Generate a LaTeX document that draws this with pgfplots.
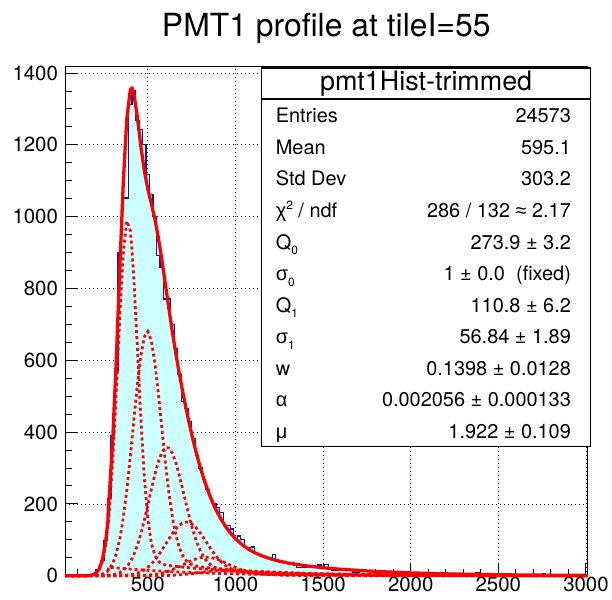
\documentclass[border=0pt]{standalone}
\usepackage{fontspec}
\setmainfont{TeX Gyre Heros}
\newfontfamily\grk{Liberation Sans}
\usepackage{pgfplots}
\usepackage{pgfplotstable}
\pgfplotsset{compat=1.18}
\pgfplotsset{layers/histlayers/.define layer set={axis background,axis grid,pre main,main,axis ticks,axis lines,axis tick labels,axis descriptions,axis foreground}{}}

\definecolor{histfill}{RGB}{204,255,255}
\definecolor{histline}{RGB}{20,20,170}
\definecolor{fitred}{RGB}{255,0,0}

\newcommand{\lowidx}[1]{\raisebox{-0.55ex}{\fontsize{12}{12}\selectfont #1}}
\newcommand{\highidx}[1]{\raisebox{0.75ex}{\fontsize{12}{12}\selectfont #1}}

% histogram: left bin edge, content (bin width 20); closed down to zero at the end
\pgfplotstableread{
x y
30 0
50 0
70 0
90 0
110 0
130 0
150 1
170 2
190 6
210 17
230 43
250 98
270 215
290 390
310 570
330 900
350 1050
370 1052
390 1312
410 1351
430 1268
450 1243
470 1200
490 1118
510 1062
530 1000
550 891
570 860
590 771
610 771
630 700
650 632
670 560
690 485
710 465
730 430
750 383
770 336
790 300
810 269
830 241
850 215
870 200
890 190
910 176
930 140
950 139
970 130
990 103
1010 111
1030 100
1050 79
1070 78
1090 80
1110 62
1130 58
1150 54
1170 50
1190 50
1210 59
1230 42
1250 40
1270 38
1290 38
1310 34
1330 30
1350 22
1370 22
1390 22
1410 27
1430 25
1450 24
1470 30
1490 22
1510 31
1530 21
1550 15
1570 15
1590 18
1610 17
1630 17
1650 16
1670 10
1690 10
1710 14
1730 14
1750 13
1770 13
1790 12
1810 5
1830 11
1850 6
1870 10
1890 10
1910 9
1930 9
1950 9
1970 8
1990 8
2010 8
2030 7
2050 7
2070 7
2090 7
2110 6
2130 6
2150 6
2170 6
2190 8
2210 5
2230 5
2250 5
2270 5
2290 4
2310 4
2330 4
2350 4
2370 8
2390 4
2410 3
2430 3
2450 3
2470 3
2490 3
2510 3
2530 3
2550 3
2570 2
2590 2
2610 2
2630 2
2650 2
2670 2
2690 2
2710 2
2730 2
2750 6
2770 2
2790 2
2810 1
2830 1
2850 1
2870 1
2890 1
2910 1
2930 1
2950 1
2970 1
2990 1
3010 1
3010 0
}\histdata

% fit: total (T) and the single terms C0..C6
\pgfplotstableread{
x T C0 C1 C2 C3 C4 C5 C6
30 0 0 0 0 0 0 0 0
100 0 0 0 0 0 0 0 0
140 0.1 0 0.1 0 0 0 0 0
160 0.5 0 0.39 0.11 0 0 0 0
180 1.8 0 1.49 0.29 0 0 0 0
200 5.8 0 4.96 0.76 0.1 0 0 0
220 16.7 0 14.6 1.86 0.16 0 0 0
240 42.7 0 38.1 4.23 0.34 0 0 0
260 97.5 0 87.7 9.06 0.72 0 0 0
273 156.8 0 141.3 14.3 1.2 0 0 0
274 186.5 24.08 146.3 14.9 1.2 0 0 0
280 222.2 23.77 178.8 18.1 1.42 0.08 0 0
300 382.7 22.82 322.4 34.5 2.73 0.18 0 0
320 601.9 21.90 513.2 61.4 5.04 0.32 0 0
340 855.3 21.02 722.2 102.7 8.91 0.59 0 0
360 1095.5 20.18 897.9 161.4 15.1 1.03 0.05 0
380 1272.0 19.36 987.8 238.3 24.6 1.77 0.1 0
400 1353.7 18.58 962.1 330.9 39.0 2.94 0.17 0
410 1358.8 18.21 907.5 381.0 48.0 3.83 0.22 0
420 1344.5 17.84 831.0 432.1 58.5 4.72 0.28 0
440 1278.6 17.11 638.7 530.5 84.3 7.55 0.47 0.05
460 1196.8 16.42 439.2 612.5 116.4 11.4 0.74 0.07
480 1127.6 15.76 274.1 665.3 154.4 16.7 1.22 0.1
500 1077.0 15.12 159.6 680.0 196.7 23.6 1.82 0.1
520 1036.5 14.51 91.7 654.6 240.3 32.5 2.70 0.16
540 994.0 13.93 56.7 593.8 281.9 43.5 3.90 0.24
560 942.0 13.37 40.5 508.2 317.6 56.4 5.49 0.35
580 880.0 12.83 33.5 411.3 343.4 71.0 7.54 0.52
600 812.6 12.31 30.4 315.8 356.7 86.5 10.1 0.75
620 744.6 11.82 28.6 231.6 355.9 102.3 13.2 1.05
640 679.1 11.34 27.3 163.5 341.2 117.3 17.0 1.46
660 618.5 10.88 26.2 113.0 314.7 130.4 21.2 1.96
680 562.1 10.45 25.1 78.1 279.1 140.8 25.7 2.61
700 510.1 10.03 24.1 55.7 238.6 147.4 30.6 3.39
720 461.5 9.62 23.2 41.9 196.9 149.7 35.5 4.30
740 416.2 9.23 22.2 34.0 157.2 147.7 40.1 5.34
760 374.1 8.86 21.3 29.4 122.0 141.2 44.2 6.50
780 335.6 8.50 20.5 26.7 92.4 131.3 47.7 7.74
800 300.5 8.16 19.6 24.9 69.1 118.6 50.1 9.05
820 268.9 7.83 18.9 23.6 51.4 104.2 51.5 10.35
840 240.7 7.52 18.1 22.5 38.8 89.2 51.5 11.7
860 215.4 7.21 17.4 21.6 30.0 74.4 50.5 12.7
880 193.1 6.92 16.7 20.7 24.1 60.6 48.3 13.7
900 173.3 6.64 16.0 19.9 20.2 48.5 45.2 14.5
920 155.4 6.38 15.3 19.1 17.7 38.1 41.2 15.0
940 139.9 6.12 14.7 18.3 16.1 29.8 36.8 15.2
960 126.1 5.87 14.1 17.6 14.9 23.2 32.1 15.1
980 114.1 5.64 13.6 16.8 14.0 18.1 27.6 14.7
1000 103.4 5.41 13.0 16.2 13.3 14.5 23.2 14.0
1020 94.4 5.19 12.5 15.5 12.7 11.9 19.2 13.1
1040 86.0 4.98 12.0 14.9 12.2 10.0 15.6 12.1
1060 78.9 4.78 11.5 14.3 11.7 8.6 12.6 10.9
1080 72.6 4.59 11.0 13.7 11.2 7.7 10.1 9.66
1100 67.0 4.40 10.6 13.2 10.8 7.1 8.1 8.4
1120 62.0 4.22 10.2 12.6 10.3 6.6 6.6 7.3
1140 57.7 4.06 9.76 12.1 9.91 6.2 5.4 6.1
1160 53.8 3.89 9.37 11.6 9.51 5.9 4.4 5.1
1180 50.4 3.73 9.0 11.2 9.12 5.6 3.8 4.25
1200 47.2 3.59 8.63 10.7 8.76 5.36 3.29 3.49
1250 40.7 3.24 7.78 9.67 7.91 4.83 2.57 2.17
1300 35.5 2.92 7.03 8.73 7.13 4.36 2.19 1.36
1400 27.9 2.37 5.72 7.11 5.81 3.56 1.74 0.76
1500 22.4 1.93 4.66 5.79 4.72 2.89 1.41 0.58
1600 18.1 1.58 3.79 4.71 3.85 2.35 1.16 0.47
1800 12.0 1.04 2.52 3.13 2.55 1.56 0.76 0.31
2000 7.97 0.69 1.67 2.07 1.70 1.04 0.51 0.21
2200 5.28 0.46 1.11 1.37 1.12 0.69 0.33 0.14
2400 3.50 0.30 0.74 0.91 0.74 0.45 0.23 0.09
2600 2.32 0.20 0.49 0.60 0.49 0.30 0.15 0.06
2800 1.54 0.13 0.32 0.40 0.32 0.20 0.10 0.04
3000 1.02 0.09 0.22 0.26 0.22 0.13 0.07 0.03
3010 1.0 0.09 0.22 0.26 0.22 0.13 0.07 0.03
}\fitdata

\begin{document}
\begin{tikzpicture}
% page frame (invisible)
\path (0pt,0pt) rectangle (612pt,602pt);

% title
\node[anchor=base, font=\fontsize{32}{32}\selectfont, inner sep=0pt] at (327.5pt,565.3pt) {PMT1 profile at tileI=55};

\begin{axis}[
  set layers=histlayers,
  at={(65.7pt,24pt)}, anchor=south west,
  scale only axis, width=524.3pt, height=511.5pt,
  xmin=30, xmax=3010, ymin=0, ymax=1419,
  xtick={500,1000,...,3000},
  minor xtick={100,200,...,3000},
  ytick={0,200,...,1400},
  minor ytick={50,100,...,1400},
  xtick pos=left, ytick pos=left,
  tick align=inside,
  major tick length=13pt, minor tick length=7pt,
  tick style={black, line width=1pt},
  axis line style={black, line width=1.2pt},
  grid=major,
  major grid style={black, line width=0.9pt, dash pattern=on 1pt off 3pt},
  /pgf/number format/assume math mode=true,
  /pgf/number format/set thousands separator={},
  tick label style={font=\fontsize{20.5}{20.5}\selectfont},
  yticklabel style={xshift=-4pt},
  xticklabel style={yshift=2pt},
  clip=false,
  fitterm/.style={fitred, line width=2.8pt, dash pattern=on 3pt off 3pt},
]
\addplot[const plot, fill=histfill, draw=histline, line width=1.2pt] table[x=x,y=y]{\histdata};

\addplot[fitterm] table[x=x,y=C0]{\fitdata};
\addplot[fitterm] table[x=x,y=C1]{\fitdata};
\addplot[fitterm] table[x=x,y=C2]{\fitdata};
\addplot[fitterm] table[x=x,y=C3]{\fitdata};
\addplot[fitterm] table[x=x,y=C4]{\fitdata};
\addplot[fitterm] table[x=x,y=C5]{\fitdata};
\addplot[fitterm] table[x=x,y=C6]{\fitdata};

\addplot[fitred, line width=3.3pt, line join=round] table[x=x,y=T]{\fitdata};
\end{axis}

% statistics box
\begin{scope}[x=1pt,y=1pt]
\draw[line width=1.2pt, fill=white] (262.7,153.7) rectangle (593,533.7);
\draw[line width=1.2pt] (262.7,502.7) -- (593,502.7);
\node[anchor=base, font=\fontsize{27}{27}\selectfont, inner sep=0pt] at (427.8,511.3) {pmt1Hist-trimmed};

\begin{scope}[every node/.style={font=\fontsize{20}{20}\selectfont, inner sep=0pt}]
\node[anchor=base west] at (276.7,478.7) {Entries};
\node[anchor=base east] at (573.3,478.7) {24573};
\node[anchor=base west] at (276.7,447.0) {Mean};
\node[anchor=base east] at (573.3,447.0) {595.1};
\node[anchor=base west] at (276.7,415.3) {Std Dev};
\node[anchor=base east] at (573.3,415.3) {303.2};
\node[anchor=base west] at (276.7,383.7) {{\grk χ}\highidx{2} / ndf};
\node[anchor=base east] at (573.3,383.7) {286 / 132 {\grk ≈} 2.17};
\node[anchor=base west] at (276.7,352.0) {Q\lowidx{0}};
\node[anchor=base east] at (573.3,352.0) {273.9 ± 3.2};
\node[anchor=base west] at (276.7,320.3) {{\grk σ}\lowidx{0}};
\node[anchor=base east] at (573.3,320.3) {1 ± 0.0\ \ (fixed)};
\node[anchor=base west] at (276.7,288.7) {Q\lowidx{1}};
\node[anchor=base east] at (573.3,288.7) {110.8 ± 6.2};
\node[anchor=base west] at (276.7,257.0) {{\grk σ}\lowidx{1}};
\node[anchor=base east] at (573.3,257.0) {56.84 ± 1.89};
\node[anchor=base west] at (276.7,225.3) {w};
\node[anchor=base east] at (573.3,225.3) {0.1398 ± 0.0128};
\node[anchor=base west] at (276.7,193.7) {{\grk α}};
\node[anchor=base east] at (573.3,193.7) {0.002056 ± 0.000133};
\node[anchor=base west] at (276.7,162.0) {{\grk μ}};
\node[anchor=base east] at (573.3,162.0) {1.922 ± 0.109};
\end{scope}
\end{scope}
\end{tikzpicture}
\end{document}
